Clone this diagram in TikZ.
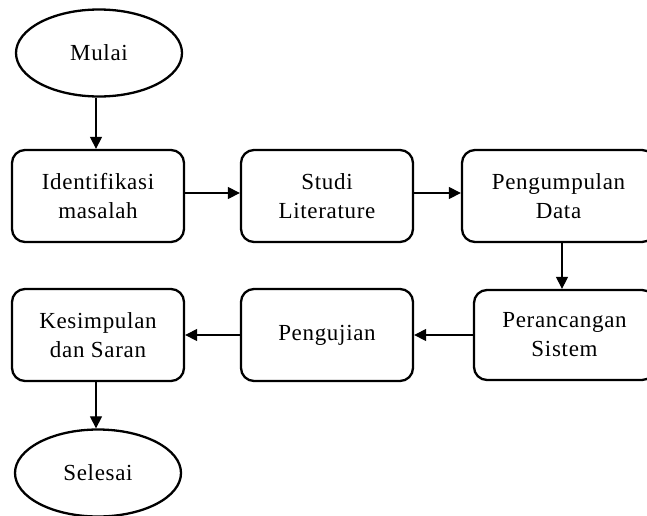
\documentclass[tikz,border=0pt]{standalone}
\usepackage{fontspec}
\setmainfont[LetterSpace=3]{Liberation Serif}
\usetikzlibrary{shapes.geometric,arrows.meta}
\tikzset{
  x=1pt, y=-1pt,
  stepbox/.style={draw, line width=2.3pt, rounded corners=13pt, align=center,
    inner sep=0pt, minimum height=92pt, font=\fontsize{23}{29}\selectfont},
  terminal/.style={draw, ellipse, line width=2.3pt, inner sep=0pt,
    minimum width=166pt, minimum height=87pt, font=\fontsize{23}{29}\selectfont},
  arr/.style={line width=1.2pt, -{Triangle[length=12pt,width=12pt]}}
}
\begin{document}
\begin{tikzpicture}
\useasboundingbox (0,0) rectangle (647,515);
% start / end terminals
\node[terminal] (mulai) at (99,53) {Mulai};
\node[terminal] (selesai) at (98,473) {Selesai};
% process steps, top row
\node[stepbox, minimum width=172pt] (ident) at (98,196) {Identifikasi\\masalah};
\node[stepbox, minimum width=172pt] (studi) at (327,196) {Studi\\Literature};
% the right-hand column runs just past the page edge
\node[stepbox, minimum width=193pt] (kumpul) at (558.5,196) {Pengumpulan\\Data};
% process steps, bottom row
\node[stepbox, minimum width=181pt, minimum height=90pt] (rancang) at (564.5,335) {Perancangan\\Sistem};
\node[stepbox, minimum width=172pt] (uji) at (327,335) {Pengujian};
\node[stepbox, minimum width=172pt] (simpul) at (98,335) {Kesimpulan\\dan Saran};
% flow
\draw[arr] (mulai.south -| 96,0) -- (ident.north -| 96,0);
\draw[arr] (ident.east |- 0,193) -- (studi.west |- 0,193);
\draw[arr] (studi.east |- 0,193) -- (kumpul.west |- 0,193);
\draw[arr] (kumpul.south -| 562,0) -- (rancang.north -| 562,0);
\draw[arr] (rancang.west) -- (uji.east);
\draw[arr] (uji.west) -- (simpul.east);
\draw[arr] (simpul.south -| 96,0) -- (selesai.north -| 96,0);
\end{tikzpicture}
\end{document}
